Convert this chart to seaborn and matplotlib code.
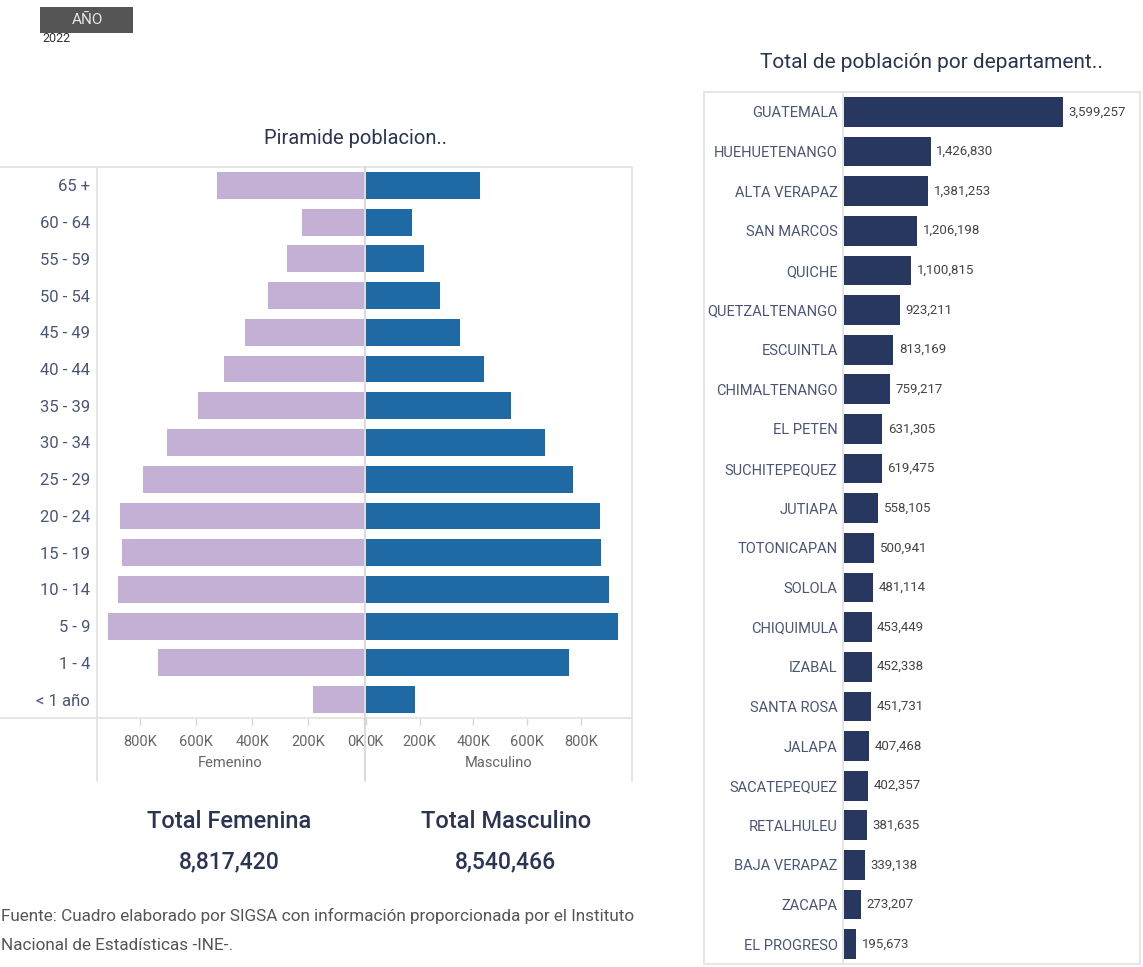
import pandas as pd
import matplotlib.pyplot as plt
import seaborn as sns
from matplotlib.lines import Line2D
from matplotlib.patches import Rectangle

# Data (2022)
edades = ['65 +', '60 - 64', '55 - 59', '50 - 54', '45 - 49', '40 - 44', '35 - 39',
          '30 - 34', '25 - 29', '20 - 24', '15 - 19', '10 - 14', '5 - 9', '1 - 4', '< 1 año']
femenino = [526000, 222000, 275000, 343000, 426000, 501000, 594000,
            705000, 791000, 873000, 866000, 880000, 916000, 737000, 182000]
masculino = [425000, 171000, 216000, 276000, 350000, 439000, 540000,
             667000, 771000, 871000, 875000, 905000, 939000, 756000, 182000]

departamentos = ['GUATEMALA', 'HUEHUETENANGO', 'ALTA VERAPAZ', 'SAN MARCOS', 'QUICHE',
                 'QUETZALTENANGO', 'ESCUINTLA', 'CHIMALTENANGO', 'EL PETEN', 'SUCHITEPEQUEZ',
                 'JUTIAPA', 'TOTONICAPAN', 'SOLOLA', 'CHIQUIMULA', 'IZABAL', 'SANTA ROSA',
                 'JALAPA', 'SACATEPEQUEZ', 'RETALHULEU', 'BAJA VERAPAZ', 'ZACAPA', 'EL PROGRESO']
poblacion = [3599257, 1426830, 1381253, 1206198, 1100815, 923211, 813169, 759217, 631305,
             619475, 558105, 500941, 481114, 453449, 452338, 451731, 407468, 402357, 381635,
             339138, 273207, 195673]

total_fem = '8,817,420'
total_masc = '8,540,466'

sns.set_theme(style='white')
plt.rcParams['font.family'] = ['Roboto', 'DejaVu Sans']

W, H = 1143, 967
fig = plt.figure(figsize=(W / 100, H / 100), dpi=100)


def box(l, t, r, b):
    return [l / W, 1 - b / H, (r - l) / W, (b - t) / H]


def line(x0, y0, x1, y1, color='#e2e2e2', lw=1.2):
    fig.add_artist(Line2D([x0 / W, x1 / W], [1 - y0 / H, 1 - y1 / H],
                          color=color, lw=lw, transform=fig.transFigure))


label_col = '#4a5578'
dark_col = '#2b3553'
tick_col = '#666666'

# Pyramid
df_pir = pd.DataFrame({'Edad': edades, 'Femenino': femenino, 'Masculino': masculino})

ax_f = fig.add_axes(box(97, 167, 364, 718))
ax_m = fig.add_axes(box(366, 167, 632, 718))

sns.barplot(data=df_pir, x='Femenino', y='Edad', color='#c4b0d5', width=0.73,
            linewidth=0, saturation=1, ax=ax_f)
sns.barplot(data=df_pir, x='Masculino', y='Edad', color='#1f69a5', width=0.73,
            linewidth=0, saturation=1, ax=ax_m)

ax_f.set_xlim(955000, 0)
ax_m.set_xlim(0, 991000)

ticks = [0, 200000, 400000, 600000, 800000]
tick_labels = ['0K', '200K', '400K', '600K', '800K']
for ax, name in [(ax_f, 'Femenino'), (ax_m, 'Masculino')]:
    ax.set_xticks(ticks)
    ax.set_xticklabels(tick_labels)
    ax.set_xlabel(name, fontsize=10.5, color=tick_col, labelpad=5)
    ax.tick_params(axis='x', bottom=True, direction='out', length=5, width=1,
                   color='#d6d6d6', labelsize=10.5, labelcolor=tick_col, pad=7)
    for s in ax.spines.values():
        s.set_visible(False)

ax_f.get_xticklabels()[0].set_ha('right')
ax_m.get_xticklabels()[0].set_ha('left')

ax_f.set_ylabel('')
ax_f.tick_params(axis='y', left=False, labelsize=12, labelcolor=label_col, pad=-1)
ax_m.set_ylabel('')
ax_m.set_yticks([])

fig.text(355 / W, 1 - 138 / H, 'Piramide poblacion..', ha='center', va='center',
         fontsize=14.5, color=dark_col)

# pyramid frame
line(0, 167, 632, 167)
line(0, 718, 632, 718)
line(97, 167, 97, 781)
line(365, 167, 365, 781, color='#d4d4d4')
line(632, 167, 632, 781)

# totals
fig.text(229 / W, 1 - 822 / H, 'Total Femenina', ha='center', va='center',
         fontsize=17, fontweight='medium', color=dark_col)
fig.text(229 / W, 1 - 862 / H, total_fem, ha='center', va='center',
         fontsize=16.5, fontweight='medium', color=dark_col)
fig.text(506 / W, 1 - 822 / H, 'Total Masculino', ha='center', va='center',
         fontsize=17, fontweight='medium', color=dark_col)
fig.text(506 / W, 1 - 862 / H, total_masc, ha='center', va='center',
         fontsize=16.5, fontweight='medium', color=dark_col)

fig.text(1 / W, 1 - 916 / H,
         'Fuente: Cuadro elaborado por SIGSA con información proporcionada por el Instituto',
         ha='left', va='center', fontsize=12.3, color='#555555')
fig.text(1 / W, 1 - 946 / H, 'Nacional de Estadísticas -INE-.',
         ha='left', va='center', fontsize=12.3, color='#555555')

# Departments
df_dep = pd.DataFrame({'Departamento': departamentos, 'Poblacion': poblacion})
ax_d = fig.add_axes(box(844, 92, 1140, 964))
sns.barplot(data=df_dep, x='Poblacion', y='Departamento', color='#283760', width=0.75,
            linewidth=0, saturation=1, ax=ax_d)
ax_d.set_xlim(0, 4865000)
ax_d.bar_label(ax_d.containers[0], labels=[f'{v:,}' for v in poblacion],
               padding=4, fontsize=9.5, color='#444444')
ax_d.set_xlabel('')
ax_d.set_ylabel('')
ax_d.set_xticks([])
ax_d.tick_params(axis='y', left=False, labelsize=10.5, labelcolor=label_col, pad=-1.5)
for s in ax_d.spines.values():
    s.set_visible(False)

fig.text(931 / W, 1 - 62 / H, 'Total de población por departament..', ha='center',
         va='center', fontsize=15, color=dark_col)

line(704, 92, 1140, 92)
line(704, 964, 1140, 964)
line(704, 92, 704, 964)
line(1140, 92, 1140, 964)
line(843, 92, 843, 964)

# year filter
fig.text(42 / W, 1 - 39 / H, '2022', ha='left', va='center', fontsize=9,
         color='#333333', zorder=1)
fig.add_artist(Rectangle((40 / W, 1 - 33 / H), 93 / W, 26 / H, facecolor='#555555',
                         edgecolor='none', transform=fig.transFigure, zorder=2))
fig.text(87 / W, 1 - 20 / H, 'AÑO', ha='center', va='center', fontsize=11,
         color='#e6e6e6', zorder=3)

fig.savefig('out.png', dpi=100)
